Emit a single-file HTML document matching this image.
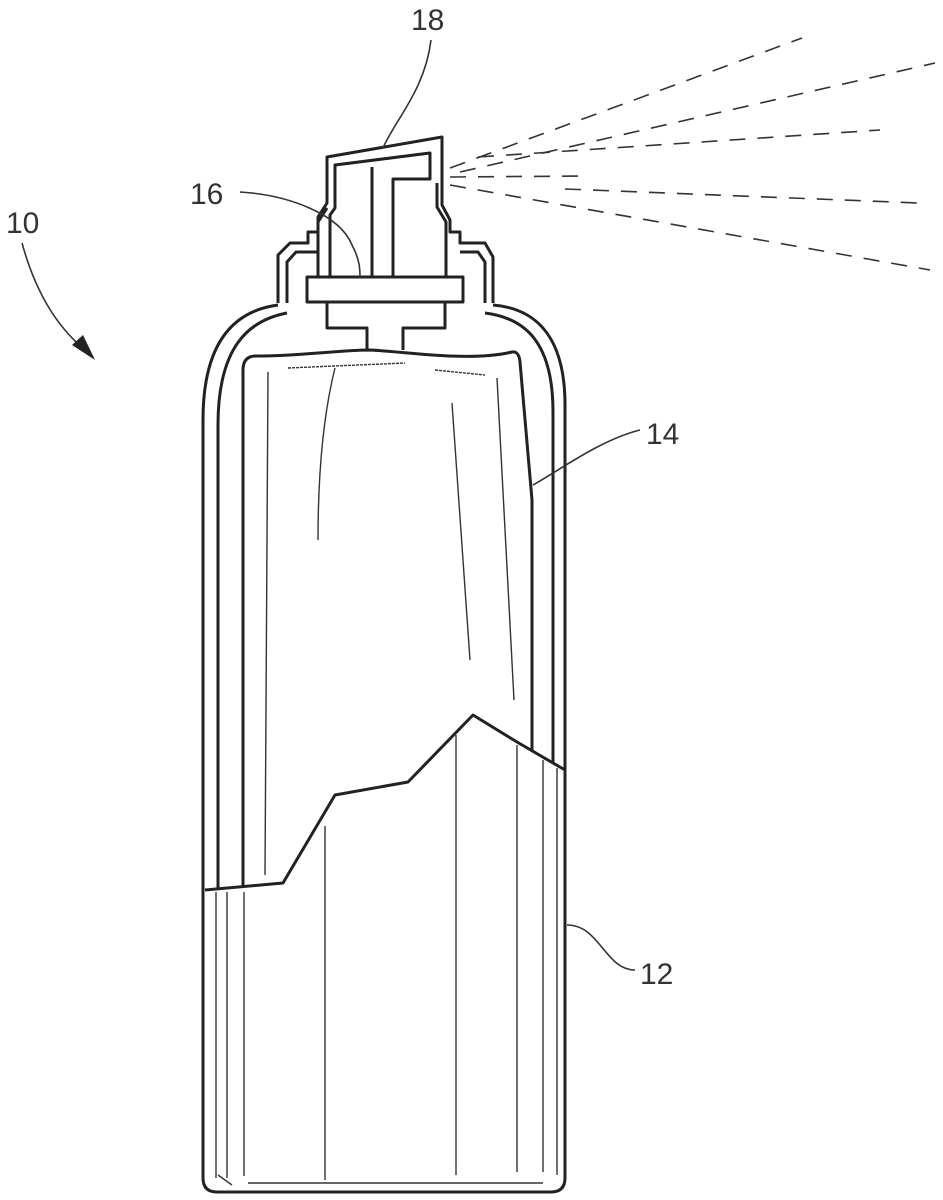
<!DOCTYPE html>
<html><head><meta charset="utf-8"><style>html,body{margin:0;padding:0;background:#fff}svg{display:block}</style></head>
<body>
<svg width="943" height="1200" viewBox="0 0 943 1200" xmlns="http://www.w3.org/2000/svg">
<g fill="none" stroke="#222" stroke-width="3" stroke-linejoin="round">
<path d="M203,1178 V420 C203,335 240,310 278,305"/>
<path d="M565,1178 V405 C565,330 530,308 493,305"/>
<path d="M203,1178 Q203,1192 217,1192 H551 Q565,1192 565,1178"/>
<path d="M218,888 V425 C218,345 250,320 287,313"/>
<path d="M553,762 V412 C553,342 525,318 485,313"/>
<path d="M278,303 V255 L290,243 H308 V232 H318 V217 L327,203 V157 L442,137 V205 L450,220 V232 H460 V243 H485 L493,257 V303"/>
<path d="M287,303 V262 L296,252 H318"/>
<path d="M460,252 H478 L485,262 V303"/>
<path d="M318,277 V222 L327,208"/>
<path d="M330,277 V215 L335,208 V165 L430,153 V179 H393 V277"/>
<path d="M372,167 V277"/>
<path d="M437,183 V207 L446,222 V277"/>
<rect x="307" y="277" width="156" height="25"/>
<path d="M327,302 V328 H367 V350 M403,350 V328 H445 V302"/>
<path d="M243,887 V370 Q243,356 256,356 C300,356 340,350 370,350 C410,352 470,362 512,352 Q519,351 520,362 L532,500 V750"/>
<path d="M205,890 L283,883 L335,795 L408,782 L473,715 L517,742 L565,770"/>
</g>
<g fill="none" stroke="#333" stroke-width="1.4">
<path d="M268,372 L265,875"/>
<path d="M335,368 C322,420 318,480 318,540"/>
<path d="M452,403 L470,660"/>
<path d="M497,378 L514,700"/>
<path d="M288,368 L405,363" stroke-dasharray="3,1"/>
<path d="M435,370 L485,375" stroke-dasharray="3,1"/>
<path d="M216,892 V1178 M227,892 V1178 M244,892 V1176 M325,826 V1180 M456,735 V1175 M517,745 V1172 M543,760 V1172 M557,768 V1175"/>
<path d="M248,1183 H543"/>
<path d="M218,1175 L232,1185"/>
</g>
<g fill="none" stroke="#333" stroke-width="1.6" stroke-dasharray="16,12">
<path d="M450,168 L802,38"/>
<path d="M460,172 L935,63"/>
<path d="M478,157 L880,130"/>
<path d="M450,177 L590,176"/>
<path d="M565,189 L918,203"/>
<path d="M450,185 L930,270"/>
</g>
<g fill="none" stroke="#333" stroke-width="1.6">
<path d="M22,243 C35,290 55,325 85,350"/>
<path d="M431,40 C425,90 395,120 383,148"/>
<path d="M240,192 C290,195 340,215 352,245 C360,260 360,270 360,277"/>
<path d="M640,430 C600,440 560,470 533,485"/>
<path d="M635,970 C605,970 600,925 567,925"/>
</g>
<path d="M95,360 L72,345 L83,335 Z" fill="#222"/>
<g font-family="Liberation Sans, sans-serif" font-size="30" fill="#333">
<text x="6" y="233">10</text>
<text x="190" y="204">16</text>
<text x="411" y="30">18</text>
<text x="646" y="444">14</text>
<text x="640" y="984">12</text>
</g>
</svg>
</body></html>
